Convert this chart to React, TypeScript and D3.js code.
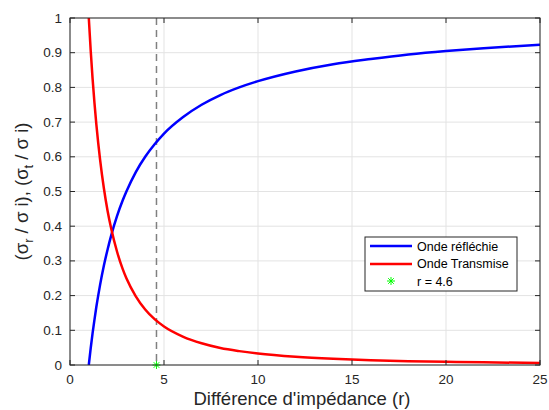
import React from "react";
import * as d3 from "d3";

const rValues = [1, 1.1, 1.2, 1.3, 1.4, 1.5, 1.6, 1.8, 2, 2.2, 2.5, 2.8, 3, 3.5, 4, 4.5, 5, 6, 7, 8, 9, 10, 12, 14, 16, 18, 20, 22, 25];
const reflected = [0, 0.048, 0.091, 0.13, 0.167, 0.2, 0.231, 0.286, 0.333, 0.375, 0.429, 0.474, 0.5, 0.556, 0.6, 0.636, 0.667, 0.714, 0.75, 0.778, 0.8, 0.818, 0.846, 0.867, 0.882, 0.895, 0.905, 0.913, 0.923];
const transmitted = [1, 0.907, 0.826, 0.756, 0.694, 0.64, 0.592, 0.51, 0.444, 0.391, 0.327, 0.277, 0.25, 0.198, 0.16, 0.132, 0.111, 0.082, 0.0625, 0.049, 0.04, 0.033, 0.0237, 0.0178, 0.0138, 0.0111, 0.0091, 0.0076, 0.0059];
const markerR = 4.6;
const markerY = 0;
const xTicks = [0, 5, 10, 15, 20, 25];
const yTicks = [0, 0.1, 0.2, 0.3, 0.4, 0.5, 0.6, 0.7, 0.8, 0.9, 1];
const legendLabels = ["Onde réfléchie", "Onde Transmise", "r = 4.6"];

const W = 549, H = 410;
const L = 70, R = 540, T = 18, B = 365;
const FONT = "'Liberation Sans', Arial, Helvetica, sans-serif";

export default function App() {
  const x = d3.scaleLinear().domain([0, 25]).range([L, R]);
  const y = d3.scaleLinear().domain([0, 1]).range([B, T]);
  const line = (ys: number[]) =>
    d3.line<number>().x((_, i) => x(rValues[i])).y((d) => y(d)).curve(d3.curveMonotoneX)(ys) || "";
  const axisCol = "#262626";
  const gridCol = "#e3e3e3";
  const tl = 5;
  const star = (cx: number, cy: number, s: number, col: string, key?: string) => (
    <g key={key} stroke={col} strokeWidth={1}>
      <line x1={cx - s} y1={cy} x2={cx + s} y2={cy} />
      <line x1={cx} y1={cy - s} x2={cx} y2={cy + s} />
      <line x1={cx - s * 0.7} y1={cy - s * 0.7} x2={cx + s * 0.7} y2={cy + s * 0.7} />
      <line x1={cx - s * 0.7} y1={cy + s * 0.7} x2={cx + s * 0.7} y2={cy - s * 0.7} />
    </g>
  );
  const lgX = 365, lgY = 237, lgW = 152, lgH = 54;
  return (
    <svg width={W} height={H} style={{ position: "absolute", left: 0, top: 0, background: "#fff" }} fontFamily={FONT}>
      <rect width={W} height={H} fill="#fff" />
      {xTicks.map((t) => (
        <line key={"gx" + t} x1={x(t)} x2={x(t)} y1={T} y2={B} stroke={gridCol} strokeWidth={1} />
      ))}
      {yTicks.map((t) => (
        <line key={"gy" + t} x1={L} x2={R} y1={y(t)} y2={y(t)} stroke={gridCol} strokeWidth={1} />
      ))}
      <line x1={x(markerR)} x2={x(markerR)} y1={T} y2={B} stroke="#808080" strokeWidth={1.5} strokeDasharray="7,5" />
      <defs>
        <clipPath id="clip">
          <rect x={L} y={T} width={R - L} height={B - T} />
        </clipPath>
      </defs>
      <g clipPath="url(#clip)">
        <path d={line(reflected)} fill="none" stroke="#0000ff" strokeWidth={2.5} />
        <path d={line(transmitted)} fill="none" stroke="#ff0000" strokeWidth={2.5} />
      </g>
      {star(x(markerR), y(markerY), 4, "#00ff00")}
      <rect x={L} y={T} width={R - L} height={B - T} fill="none" stroke={axisCol} strokeWidth={1} />
      {xTicks.map((t) => (
        <g key={"tx" + t}>
          <line x1={x(t)} x2={x(t)} y1={B} y2={B - tl} stroke={axisCol} />
          <line x1={x(t)} x2={x(t)} y1={T} y2={T + tl} stroke={axisCol} />
          <text x={x(t)} y={B + 19} textAnchor="middle" fontSize={13.5} fill={axisCol}>{t}</text>
        </g>
      ))}
      {yTicks.map((t) => (
        <g key={"ty" + t}>
          <line x1={L} x2={L + tl} y1={y(t)} y2={y(t)} stroke={axisCol} />
          <line x1={R} x2={R - tl} y1={y(t)} y2={y(t)} stroke={axisCol} />
          <text x={L - 8} y={y(t) + 4.5} textAnchor="end" fontSize={13.5} fill={axisCol}>{t}</text>
        </g>
      ))}
      <text x={(L + R) / 2 - 3} y={404.5} textAnchor="middle" fontSize={18.5} fill={axisCol}>Différence d'impédance (r)</text>
      <text transform={`translate(28,${(T + B) / 2}) rotate(-90)`} textAnchor="middle" fontSize={18.5} fill={axisCol}>
        (σ<tspan fontSize={13} dy={5}>r</tspan><tspan dy={-5}> / σ i), (σ</tspan><tspan fontSize={13} dy={5}>t</tspan><tspan dy={-5}> / σ i)</tspan>
      </text>
      <rect x={lgX} y={lgY} width={lgW} height={lgH} fill="#fff" stroke={axisCol} strokeWidth={1} />
      <line x1={lgX + 5} x2={lgX + 47} y1={lgY + 9} y2={lgY + 9} stroke="#0000ff" strokeWidth={2.5} />
      <line x1={lgX + 5} x2={lgX + 47} y1={lgY + 27} y2={lgY + 27} stroke="#ff0000" strokeWidth={2.5} />
      {star(lgX + 26, lgY + 44, 4, "#00ff00")}
      {legendLabels.map((s, i) => (
        <text key={s} x={lgX + 52} y={lgY + 13.5 + i * 17.5} fontSize={12.5} fill="#000">{s}</text>
      ))}
    </svg>
  );
}
